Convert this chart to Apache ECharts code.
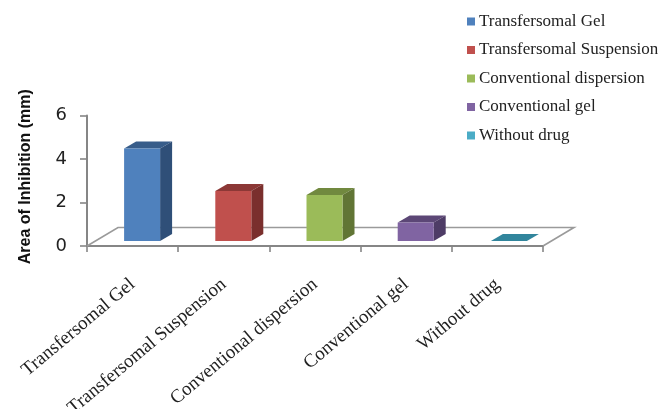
<!DOCTYPE html>
<html>
<head>
<meta charset="utf-8">
<style>html,body{margin:0;padding:0;background:#fff}#c{width:661px;height:409px}</style>
<script src="https://cdn.jsdelivr.net/npm/echarts@6/dist/echarts.min.js"></script>
</head>
<body>
<div id="c"></div>
<script>
const categories = ['Transfersomal Gel','Transfersomal Suspension','Conventional dispersion','Conventional gel','Without drug'];
const values = [4.25, 2.3, 2.12, 0.85, 0];
const frontColors = ['#4f81bd','#c0504d','#9bbb59','#8064a2','#4bacc6'];
const topColors = ['#385d8a','#8c3836','#71893f','#5c4776','#31859c'];
const sideColors = ['#2f4f78','#7a2f2d','#617535','#4e3c66','#2a7285'];
const legendSwatches = ['#4f81bd','#c0504d','#9bbb59','#8064a2','#4bacc6'];
const yTicks = [0, 6, 2];

const depth = {dx: 31, dy: -18.5};   // chart-box depth
const barInset = {dx: 9.5, dy: -5};  // bar position inside the box
const barDepth = {dx: 12, dy: -7};
const barWidth = 36;

const barSeries = categories.map((name, i) => ({
  name,
  type: 'custom',
  coordinateSystem: 'cartesian2d',
  z: 5,
  data: [[name, values[i]]],
  itemStyle: {color: legendSwatches[i]},
  encode: {x: 0, y: 1},
  renderItem(params, api) {
    const top = api.coord([api.value(0), api.value(1)]);
    const base = api.coord([api.value(0), 0]);
    const x0 = top[0] + barInset.dx - barWidth / 2;
    const x1 = x0 + barWidth;
    const yT = top[1] + barInset.dy;
    const yB = base[1] + barInset.dy;
    const d = barDepth;
    const slant = values[i] === 0 ? [[x0 + 2, yB], [x1 + 2, yB], [x1 + d.dx + 2, yB + d.dy], [x0 + d.dx + 2, yB + d.dy]]
      : [[x0, yT], [x1, yT], [x1 + d.dx, yT + d.dy], [x0 + d.dx, yT + d.dy]];
    const children = [{type: 'polygon', shape: {points: slant}, style: {fill: topColors[i]}}];
    if (values[i] > 0) {
      children.push(
        {type: 'polygon', shape: {points: [[x1, yT], [x1 + d.dx, yT + d.dy], [x1 + d.dx, yB + d.dy], [x1, yB]]}, style: {fill: sideColors[i]}},
        {type: 'rect', shape: {x: x0, y: yT, width: barWidth, height: yB - yT}, style: {fill: frontColors[i]}}
      );
    }
    return {type: 'group', children};
  }
}));

const floorSeries = {
  name: 'floor',
  type: 'custom',
  coordinateSystem: 'cartesian2d',
  z: 1,
  silent: true,
  data: [[categories[0], 0]],
  encode: {x: 0, y: 1},
  renderItem(params) {
    const cs = params.coordSys;
    const yB = cs.y + cs.height;
    const xL = cs.x, xR = cs.x + cs.width;
    const s = {stroke: '#9a9a9a', lineWidth: 1.6, fill: null};
    return {type: 'polyline', shape: {points: [[xL, yB], [xL + depth.dx, yB + depth.dy], [xR + depth.dx, yB + depth.dy], [xR, yB]]}, style: s};
  }
};

const chart = echarts.init(document.getElementById('c'), null, {renderer: 'canvas'});
chart.setOption({
  animation: false,
  backgroundColor: '#fff',
  grid: {left: 87, right: 118, top: 115.5, height: 130.5, outerBoundsMode: 'none'},
  legend: {
    orient: 'vertical', left: 462, top: 8,
    itemWidth: 8, itemHeight: 8, itemGap: 11.5,
    icon: 'rect',
    data: categories,
    textStyle: {fontFamily: '"Liberation Serif"', fontSize: 17, color: '#222', padding: [0,0,0,-1]}
  },
  xAxis: {
    type: 'category', data: categories,
    axisLine: {lineStyle: {color: '#868686', width: 2}},
    axisTick: {show: true, length: 6, lineStyle: {color: '#868686', width: 1.6}},
    axisLabel: {rotate: 40, interval: 0, margin: 36, hideOverlap: false, fontFamily: '"Liberation Serif"', fontSize: 19, color: '#222'}
  },
  yAxis: {
    type: 'value', min: yTicks[0], max: yTicks[1], interval: yTicks[2],
    name: 'Area of Inhibition (mm)',
    nameLocation: 'middle', nameGap: 53, nameRotate: 90,
    nameTextStyle: {fontFamily: '"Liberation Sans Narrow","Liberation Sans"', fontWeight: 'bold', fontSize: 16, color: '#111', padding: [0,0,0,8]},
    splitLine: {show: false},
    axisLine: {show: true, lineStyle: {color: '#868686', width: 2}},
    axisTick: {show: true, length: 7, lineStyle: {color: '#868686', width: 1.6}},
    axisLabel: {margin: 20, padding: [3,0,0,0], fontFamily: '"DejaVu Sans"', fontSize: 18, color: '#222'}
  },
  series: [floorSeries, ...barSeries]
});
</script>
</body>
</html>
